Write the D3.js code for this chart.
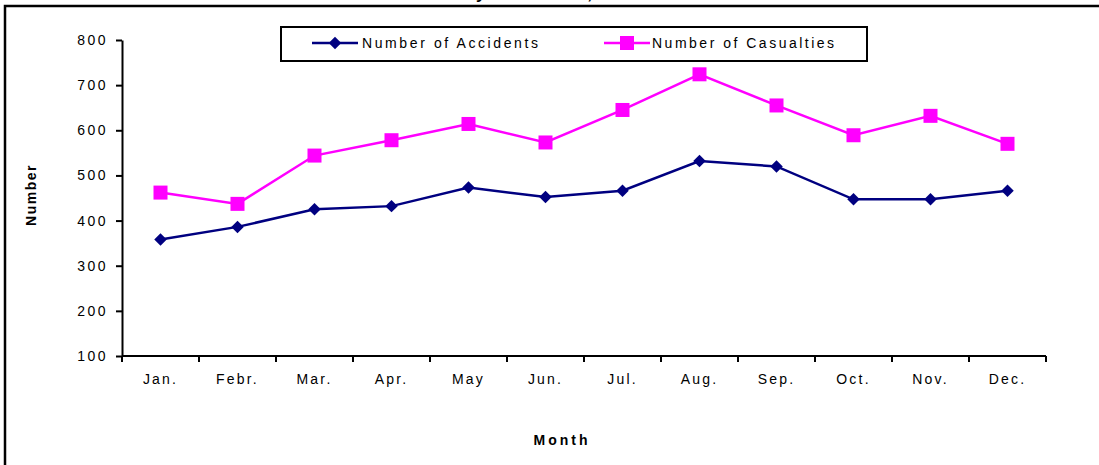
<!DOCTYPE html>
<html><head><meta charset="utf-8">
<script src="https://cdn.jsdelivr.net/npm/d3@7"></script>
<style>
html,body{margin:0;padding:0;background:#fff;overflow:hidden;}
text{font-family:Arial,"Liberation Sans",sans-serif;}
</style></head>
<body>
<svg id="c" width="1099" height="465"></svg>
<script>
const months = ["Jan.","Febr.","Mar.","Apr.","May","Jun.","Jul.","Aug.","Sep.","Oct.","Nov.","Dec."];
const accidents = [358,386,425,432,473,452,466,532,520,447,447,466];
const casualties = [462,437,544,578,614,573,645,724,655,589,632,570];
const yTicks = [100,200,300,400,500,600,700,800];
const seriesNames = ["Number of Accidents","Number of Casualties"];
const titleText = "Monthly Accidents, Casualties";

const svg = d3.select("#c");
const W = 1099, H = 465;
svg.append("rect").attr("width",W).attr("height",H).attr("fill","#fff");
// outer frame
svg.append("path").attr("d","M5,470 L5,6 L1104,6").attr("fill","none").attr("stroke","#000").attr("stroke-width",2.5);

// title (mostly clipped above, as in the reference)
const t = svg.append("text").attr("y",-1).attr("x",0)
  .attr("font-weight","bold").attr("font-size",17).attr("letter-spacing",1.5).text(titleText);
const yx = t.node().getStartPositionOfChar(6).x;
t.attr("x", 476 - yx);

const x0 = 122, x1 = 1046, yTop = 40, yBot = 356;
const x = d3.scaleBand().domain(months).range([x0,x1]);
const y = d3.scaleLinear().domain([100,800]).range([yBot,yTop]);

// y axis
const yAxis = svg.append("g").attr("transform",`translate(${x0},0)`)
  .call(d3.axisLeft(y).tickValues(yTicks).tickSize(6).tickSizeOuter(0).tickPadding(8));
yAxis.select(".domain").attr("stroke","#000").attr("stroke-width",2);
yAxis.selectAll(".tick line").attr("stroke","#000").attr("stroke-width",2);
yAxis.selectAll(".tick text").attr("font-size",14).attr("letter-spacing",2.5).attr("fill","#000")
  .attr("font-family","Arial, 'Liberation Sans', sans-serif");

// x axis
const xAxis = svg.append("g").attr("transform",`translate(0,${yBot})`)
  .call(d3.axisBottom(x).tickSize(0).tickPadding(18));
xAxis.select(".domain").remove();
xAxis.append("line").attr("x1",x0).attr("x2",x1).attr("stroke","#000").attr("stroke-width",2);
const bounds = months.map(m=>x(m)).concat([x1]);
xAxis.selectAll(".bt").data(bounds).join("line").attr("class","bt")
  .attr("x1",d=>d).attr("x2",d=>d).attr("y1",0).attr("y2",6).attr("stroke","#000").attr("stroke-width",2);
xAxis.selectAll(".tick text").attr("font-size",14).attr("letter-spacing",2.2).attr("fill","#000")
  .attr("font-family","Arial, 'Liberation Sans', sans-serif");

// axis titles
svg.append("text").attr("transform","translate(36,195) rotate(-90)").attr("text-anchor","middle")
  .attr("font-weight","bold").attr("font-size",14).attr("letter-spacing",1.5).text("Number");
svg.append("text").attr("x",562).attr("y",445).attr("text-anchor","middle")
  .attr("font-weight","bold").attr("font-size",14).attr("letter-spacing",3).text("Month");

const cx = m => x(m) + x.bandwidth()/2;
const line = d3.line().x((d,i)=>cx(months[i])).y(d=>y(d));
const navy = "#000080", mag = "#FF00FF";

svg.append("path").datum(accidents).attr("d",line).attr("fill","none").attr("stroke",navy).attr("stroke-width",2.5);
svg.append("path").datum(casualties).attr("d",line).attr("fill","none").attr("stroke",mag).attr("stroke-width",2.5);

const diam = d3.symbol().type(d3.symbolSquare).size(78);
svg.selectAll(".acc").data(accidents).join("path").attr("class","acc")
  .attr("d",diam).attr("transform",(d,i)=>`translate(${cx(months[i])},${y(d)}) rotate(45)`)
  .attr("fill",navy);
svg.selectAll(".cas").data(casualties).join("rect").attr("class","cas")
  .attr("x",(d,i)=>cx(months[i])-7).attr("y",d=>y(d)-7).attr("width",14).attr("height",14).attr("fill",mag);

// legend
const lg = svg.append("g");
lg.append("rect").attr("x",281).attr("y",27).attr("width",586).attr("height",34)
  .attr("fill","#fff").attr("stroke","#000").attr("stroke-width",2);
lg.append("line").attr("x1",312).attr("x2",358).attr("y1",43).attr("y2",43).attr("stroke",navy).attr("stroke-width",2.5);
lg.append("path").attr("transform","translate(335,43) rotate(45)").attr("d",diam).attr("fill",navy);
lg.append("text").attr("x",362).attr("y",48).attr("font-size",14).attr("letter-spacing",2.6).text(seriesNames[0]);
lg.append("line").attr("x1",604).attr("x2",650).attr("y1",43).attr("y2",43).attr("stroke",mag).attr("stroke-width",2.5);
lg.append("rect").attr("x",620).attr("y",36).attr("width",14).attr("height",14).attr("fill",mag);
lg.append("text").attr("x",652).attr("y",48).attr("font-size",14).attr("letter-spacing",2.5).text(seriesNames[1]);
</script>
</body></html>
